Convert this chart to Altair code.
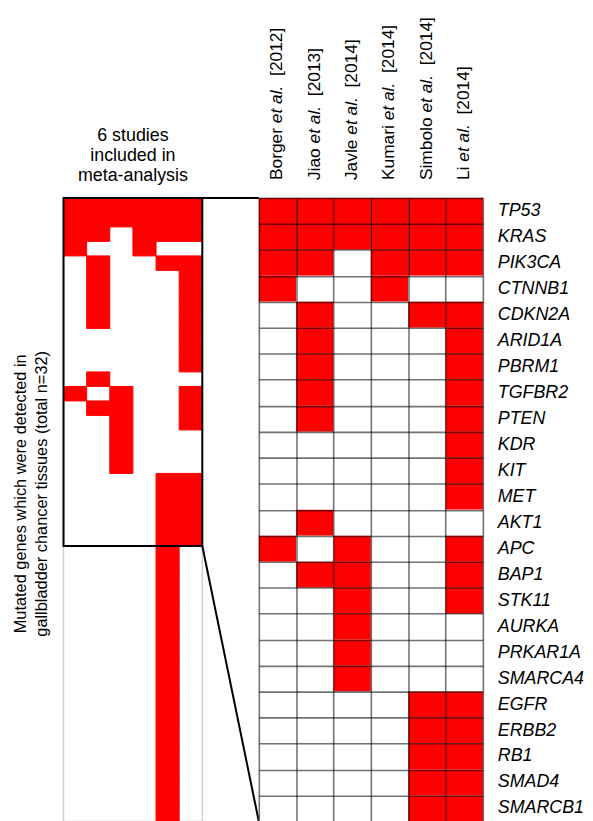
import altair as alt
import pandas as pd

FONT = "Liberation Sans"
RED = "#ff0000"

# ---------------- data ----------------
studies = ["Borger", "Jiao", "Javle", "Kumari", "Simbolo", "Li"]
years = ["2012", "2013", "2014", "2014", "2014", "2014"]
genes = ["TP53", "KRAS", "PIK3CA", "CTNNB1", "CDKN2A", "ARID1A", "PBRM1",
         "TGFBR2", "PTEN", "KDR", "KIT", "MET", "AKT1", "APC", "BAP1",
         "STK11", "AURKA", "PRKAR1A", "SMARCA4", "EGFR", "ERBB2", "RB1",
         "SMAD4", "SMARCB1"]
# 1 = mutation detected (rows: genes, columns: studies)
detected = [
    [1, 1, 1, 1, 1, 1],  # TP53
    [1, 1, 1, 1, 1, 1],  # KRAS
    [1, 1, 0, 1, 1, 1],  # PIK3CA
    [1, 0, 0, 1, 0, 0],  # CTNNB1
    [0, 1, 0, 0, 1, 1],  # CDKN2A
    [0, 1, 0, 0, 0, 1],  # ARID1A
    [0, 1, 0, 0, 0, 1],  # PBRM1
    [0, 1, 0, 0, 0, 1],  # TGFBR2
    [0, 1, 0, 0, 0, 1],  # PTEN
    [0, 0, 0, 0, 0, 1],  # KDR
    [0, 0, 0, 0, 0, 1],  # KIT
    [0, 0, 0, 0, 0, 1],  # MET
    [0, 1, 0, 0, 0, 0],  # AKT1
    [1, 0, 1, 0, 0, 1],  # APC
    [0, 1, 1, 0, 0, 1],  # BAP1
    [0, 0, 1, 0, 0, 1],  # STK11
    [0, 0, 1, 0, 0, 0],  # AURKA
    [0, 0, 1, 0, 0, 0],  # PRKAR1A
    [0, 0, 1, 0, 0, 0],  # SMARCA4
    [0, 0, 0, 0, 1, 1],  # EGFR
    [0, 0, 0, 0, 1, 1],  # ERBB2
    [0, 0, 0, 0, 1, 1],  # RB1
    [0, 0, 0, 0, 1, 1],  # SMAD4
    [0, 0, 0, 0, 1, 1],  # SMARCB1
]
# overview rows below the zoomed block (visible part of the overview)
overview_more = [
    [0, 0, 0, 0, 1, 0], [0, 0, 0, 0, 1, 0], [0, 0, 0, 0, 1, 0],
    [0, 0, 0, 0, 1, 0], [0, 0, 0, 0, 1, 0], [0, 0, 0, 0, 1, 0],
    [0, 0, 0, 0, 1, 0], [0, 0, 0, 0, 1, 0], [0, 0, 0, 0, 1, 0],
    [0, 0, 0, 0, 1, 0], [0, 0, 0, 0, 1, 0], [0, 0, 0, 0, 1, 0],
    [0, 0, 0, 0, 1, 0], [0, 0, 0, 0, 1, 0], [0, 0, 0, 0, 1, 0],
    [0, 0, 0, 0, 1, 0], [0, 0, 0, 0, 1, 0], [0, 0, 0, 0, 1, 0],
    [0, 0, 0, 0, 1, 0],
]
left_title = ["6 studies", "included in", "meta-analysis"]
y_title = ["Mutated genes which were detected in",
           "gallbladder chancer tissues (total n=32)"]

# ---------------- layout ----------------
H = 629
W_LEFT = 140
W_CONN = 57
W_RIGHT = 226
HDR_SIZE = 17.5

# Arial / Liberation Sans advance widths (1/1000 em)
AW = {" ": 278, ".": 278, "[": 278, "]": 278, "0": 556, "1": 556, "2": 556,
      "3": 556, "4": 556, "B": 667, "J": 500, "K": 667, "L": 556, "S": 667,
      "a": 556, "b": 556, "e": 556, "g": 556, "i": 222, "l": 222, "m": 833,
      "o": 556, "r": 333, "t": 278, "u": 556, "v": 500}


def tw(s, size):
    return sum(AW.get(ch, 556) for ch in s) * size / 1000.0


n_st = len(studies)
n_g = len(genes)
overview = detected + overview_more
n_ov = len(overview)

# ---------------- left overview ----------------
ov_df = pd.DataFrame([{"c0": j, "c1": j + 1, "r0": i, "r1": i + 1}
                      for i, row in enumerate(overview)
                      for j, v in enumerate(row) if v == 1])
box_df = pd.DataFrame([{"c0": 0, "c1": n_st, "r0": 0, "r1": n_g}])

xs_l = alt.Scale(domain=[0, n_st], nice=False, zero=False)
ys_l = alt.Scale(domain=[0, n_ov], reverse=True, nice=False, zero=False)
y_axis_l = alt.Axis(title=y_title, labels=False, ticks=False, domain=False,
                    grid=False, titleFont=FONT, titleFontSize=16.5,
                    titleFontWeight="normal", titleColor="black",
                    titleLineHeight=21, titlePadding=14, titleY=298)

left_cells = alt.Chart(ov_df).mark_rect(color=RED, stroke=RED, strokeWidth=1).encode(
    x=alt.X("c0:Q", scale=xs_l, axis=None), x2="c1:Q",
    y=alt.Y("r0:Q", scale=ys_l, axis=y_axis_l), y2="r1:Q")
left_box = alt.Chart(box_df).mark_rect(fillOpacity=0, stroke="black", strokeWidth=2).encode(
    x=alt.X("c0:Q", scale=xs_l, axis=None), x2="c1:Q",
    y=alt.Y("r0:Q", scale=ys_l, axis=y_axis_l), y2="r1:Q")

left = alt.layer(left_cells, left_box).properties(
    width=W_LEFT, height=H,
    title=alt.TitleParams(left_title, font=FONT, fontSize=18, fontWeight="normal",
                          color="black", anchor="middle", lineHeight=20,
                          baseline="bottom", offset=-6),
    view=alt.ViewBackground(stroke="#d0d0d0", strokeWidth=1.5))

# ---------------- connector lines ----------------
conn_df = pd.DataFrame({"x0": [0, 0], "x1": [1, 1],
                        "y0": [0, n_g / n_ov], "y1": [0, n_g / n_g]})
conn = alt.Chart(conn_df).mark_rule(color="black", strokeWidth=2).encode(
    x=alt.X("x0:Q", scale=alt.Scale(domain=[0, 1], nice=False, zero=False), axis=None),
    x2="x1:Q",
    y=alt.Y("y0:Q", scale=alt.Scale(domain=[0, 1], reverse=True, nice=False, zero=False), axis=None),
    y2="y1:Q").properties(width=W_CONN, height=H,
                          view=alt.ViewBackground(stroke="transparent"))

# ---------------- right heatmap ----------------
cells_df = pd.DataFrame([{"c0": j, "c1": j + 1, "r0": i, "r1": i + 1, "v": v}
                         for i, row in enumerate(detected)
                         for j, v in enumerate(row)])
grid_kw = dict(grid=True, labels=False, ticks=False, domain=False, title=None,
               gridColor="black", gridOpacity=0.55, gridWidth=1.6, zindex=1)


def xs_r():
    return alt.Scale(domain=[0, n_st], nice=False, zero=False)


def ys_r():
    return alt.Scale(domain=[0, n_g], reverse=True, nice=False, zero=False)


right_cells = alt.Chart(cells_df).mark_rect().encode(
    x=alt.X("c0:Q", scale=xs_r(), axis=alt.Axis(values=list(range(n_st + 1)), **grid_kw)),
    x2="c1:Q",
    y=alt.Y("r0:Q", scale=ys_r(), axis=alt.Axis(values=list(range(n_g + 1)), **grid_kw)),
    y2="r1:Q",
    color=alt.when(alt.datum.v == 1).then(alt.value(RED)).otherwise(alt.value("white")))

gene_df = pd.DataFrame({"gene": genes, "rm": [i + 0.5 for i in range(n_g)],
                        "edge": [n_st] * n_g})
gene_text = alt.Chart(gene_df).mark_text(
    align="left", baseline="middle", dx=15, font=FONT, fontSize=18,
    fontStyle="italic", color="black").encode(
    x=alt.X("edge:Q", scale=xs_r(), axis=None),
    y=alt.Y("rm:Q", scale=ys_r(), axis=None),
    text="gene:N")

HDR_GAP = 18
hdr_rows = []
for i, (name, yr) in enumerate(zip(studies, years)):
    segs = [(name, False, 0.0),
            ("et al.", True, tw(name + " ", HDR_SIZE)),
            ("[" + yr + "]", False, tw(name + " et al.  ", HDR_SIZE))]
    for txt, it, off in segs:
        hdr_rows.append({"xm": i + 0.5, "ypx": -(HDR_GAP + off), "txt": txt, "it": it})
hdr_df = pd.DataFrame(hdr_rows)


def header(italic):
    return alt.Chart(hdr_df).transform_filter(
        "datum.it" if italic else "!datum.it").mark_text(
        angle=270, align="left", baseline="middle", font=FONT, fontSize=HDR_SIZE,
        fontStyle="italic" if italic else "normal", color="black").encode(
        x=alt.X("xm:Q", scale=xs_r(), axis=None),
        y=alt.Y("ypx:Q", scale=alt.Scale(domain=[0, H], reverse=True, nice=False, zero=False),
                axis=None),
        text="txt:N")


right = alt.layer(right_cells, gene_text, header(False), header(True)).resolve_scale(
    x="independent", y="independent").properties(
    width=W_RIGHT, height=H, view=alt.ViewBackground(stroke="transparent"))

chart = alt.hconcat(left, conn, right, spacing=0, bounds="flush").properties(
    padding={"left": 4, "top": 5, "right": 0, "bottom": 0},
    background="white")

chart.save("out.html", embed_options={"renderer": "svg", "actions": False})
